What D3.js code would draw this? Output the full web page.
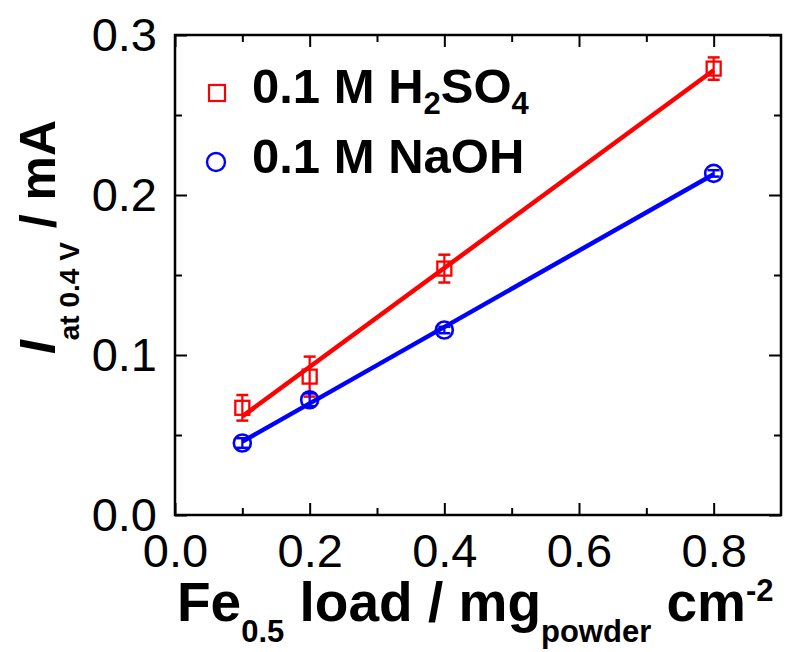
<!DOCTYPE html>
<html>
<head>
<meta charset="utf-8">
<script src="https://cdn.jsdelivr.net/npm/d3@7"></script>
<style>
  body { margin: 0; background: #ffffff; }
  text { font-family: "Liberation Sans", Arial, Helvetica, sans-serif; }
</style>
</head>
<body>
<svg id="chart" width="787" height="652"></svg>
<script>
// Catalyst loading (mg powder per cm²) and current at 0.4 V (mA)
const loads = [0.1, 0.2, 0.4, 0.8];
const acidCurrent = [0.067, 0.0865, 0.154, 0.279];
const acidError = [0.008, 0.0125, 0.0087, 0.007];
const baseCurrent = [0.045, 0.072, 0.1156, 0.2135];
const baseError = [0.003, 0.004, 0.002, 0.002];

const xTicks = [0, 0.2, 0.4, 0.6, 0.8];
const xMinor = [0.1, 0.3, 0.5, 0.7];
const yTicks = [0, 0.1, 0.2, 0.3];
const yMinor = [0.05, 0.15, 0.25];

const RED = "#ff0000", BLUE = "#0000ff";

const svg = d3.select("#chart");
const box = { l: 175, r: 781, t: 35, b: 515 };

const x = d3.scaleLinear().domain([0, 0.9]).range([box.l, box.r]);
const y = d3.scaleLinear().domain([0, 0.3]).range([box.b, box.t]);
const fmt = d3.format(".1f");

// least-squares straight line through a series
function linearFit(xs, ys) {
  const mx = d3.mean(xs), my = d3.mean(ys);
  let sxy = 0, sxx = 0;
  xs.forEach((v, i) => { sxy += (v - mx) * (ys[i] - my); sxx += (v - mx) ** 2; });
  const slope = sxy / sxx;
  return { slope, intercept: my - slope * mx };
}

function styleAxis(g) {
  g.select(".domain").remove();
  g.selectAll(".tick line").attr("stroke", "#000").attr("stroke-width", 2);
  g.selectAll(".tick text").attr("fill", "#000").attr("font-size", 47);
}

// ticks on all four sides, pointing inward
svg.append("g").attr("transform", `translate(0,${box.b})`)
  .call(d3.axisBottom(x).tickValues(xTicks).tickFormat(fmt).tickSize(-12).tickPadding(19))
  .call(styleAxis);
svg.append("g").attr("transform", `translate(0,${box.b})`)
  .call(d3.axisBottom(x).tickValues(xMinor).tickFormat("").tickSize(-7))
  .call(styleAxis);
svg.append("g").attr("transform", `translate(0,${box.t})`)
  .call(d3.axisTop(x).tickValues(xTicks).tickFormat("").tickSize(-12))
  .call(styleAxis);
svg.append("g").attr("transform", `translate(0,${box.t})`)
  .call(d3.axisTop(x).tickValues(xMinor).tickFormat("").tickSize(-7))
  .call(styleAxis);

svg.append("g").attr("transform", `translate(${box.l},0)`)
  .call(d3.axisLeft(y).tickValues(yTicks).tickFormat(fmt).tickSize(-12).tickPadding(18))
  .call(styleAxis);
svg.append("g").attr("transform", `translate(${box.l},0)`)
  .call(d3.axisLeft(y).tickValues(yMinor).tickFormat("").tickSize(-7))
  .call(styleAxis);
svg.append("g").attr("transform", `translate(${box.r},0)`)
  .call(d3.axisRight(y).tickValues(yTicks).tickFormat("").tickSize(-12))
  .call(styleAxis);
svg.append("g").attr("transform", `translate(${box.r},0)`)
  .call(d3.axisRight(y).tickValues(yMinor).tickFormat("").tickSize(-7))
  .call(styleAxis);

// plot frame
svg.append("rect")
  .attr("x", box.l).attr("y", box.t)
  .attr("width", box.r - box.l).attr("height", box.b - box.t)
  .attr("fill", "none").attr("stroke", "#000").attr("stroke-width", 2.5);

const series = [
  { values: acidCurrent, errors: acidError, color: RED, shape: "square" },
  { values: baseCurrent, errors: baseError, color: BLUE, shape: "circle" }
];

series.forEach(s => {
  const fit = linearFit(loads, s.values);
  const x0 = loads[0], x1 = loads[loads.length - 1];
  svg.append("line")
    .attr("x1", x(x0)).attr("y1", y(fit.slope * x0 + fit.intercept))
    .attr("x2", x(x1)).attr("y2", y(fit.slope * x1 + fit.intercept))
    .attr("stroke", s.color).attr("stroke-width", 4.5);
});

series.forEach(s => {
  const g = svg.append("g").attr("stroke", s.color).attr("fill", "none");
  loads.forEach((ld, i) => {
    const cx = x(ld), v = s.values[i], e = s.errors[i];
    const yTop = y(v + e), yBot = y(v - e);
    g.append("line").attr("x1", cx).attr("x2", cx).attr("y1", yTop).attr("y2", yBot).attr("stroke-width", 2.2);
    g.append("line").attr("x1", cx - 6).attr("x2", cx + 6).attr("y1", yTop).attr("y2", yTop).attr("stroke-width", 2.5);
    g.append("line").attr("x1", cx - 6).attr("x2", cx + 6).attr("y1", yBot).attr("y2", yBot).attr("stroke-width", 2.5);
    if (s.shape === "square") {
      g.append("rect").attr("x", cx - 7).attr("y", y(v) - 7).attr("width", 14).attr("height", 14).attr("stroke-width", 2.3);
    } else {
      g.append("circle").attr("cx", cx).attr("cy", y(v)).attr("r", 8.5).attr("stroke-width", 2.6);
    }
  });
});

// legend
const legend = svg.append("g");
legend.append("rect").attr("x", 209).attr("y", 85).attr("width", 16).attr("height", 16)
  .attr("fill", "none").attr("stroke", RED).attr("stroke-width", 2.2);
legend.append("circle").attr("cx", 216).attr("cy", 162).attr("r", 9)
  .attr("fill", "none").attr("stroke", BLUE).attr("stroke-width", 2.4);

const t1 = legend.append("text").attr("x", 252).attr("y", 103)
  .attr("font-size", 49).attr("font-weight", "bold").attr("fill", "#000");
t1.append("tspan").text("0.1 M H");
t1.append("tspan").attr("font-size", 31).attr("dy", 11).text("2");
t1.append("tspan").attr("dy", -11).text("SO");
t1.append("tspan").attr("font-size", 31).attr("dy", 11).text("4");

legend.append("text").attr("x", 252).attr("y", 173)
  .attr("font-size", 49).attr("font-weight", "bold").attr("fill", "#000")
  .text("0.1 M NaOH");

// x-axis title
const xt = svg.append("text").attr("x", 177).attr("y", 621)
  .attr("font-size", 55).attr("font-weight", "bold").attr("fill", "#000");
xt.append("tspan").text("Fe");
xt.append("tspan").attr("font-size", 31).attr("dy", 21).text("0.5");
xt.append("tspan").attr("dy", -21).text(" load / mg");
xt.append("tspan").attr("font-size", 31).attr("dy", 21).text("powder");
xt.append("tspan").attr("dy", -21).text(" cm");
xt.append("tspan").attr("font-size", 31).attr("dy", -20).text("-2");

// y-axis title
const yt = svg.append("text")
  .attr("transform", "translate(55,237) rotate(-90)")
  .attr("text-anchor", "middle")
  .attr("font-size", 50).attr("font-weight", "bold").attr("fill", "#000");
yt.append("tspan").attr("font-style", "italic").text("I");
yt.append("tspan").attr("font-size", 28).attr("dy", 24).text("at 0.4 V");
yt.append("tspan").attr("dy", -24).text(" / mA");
</script>
</body>
</html>
